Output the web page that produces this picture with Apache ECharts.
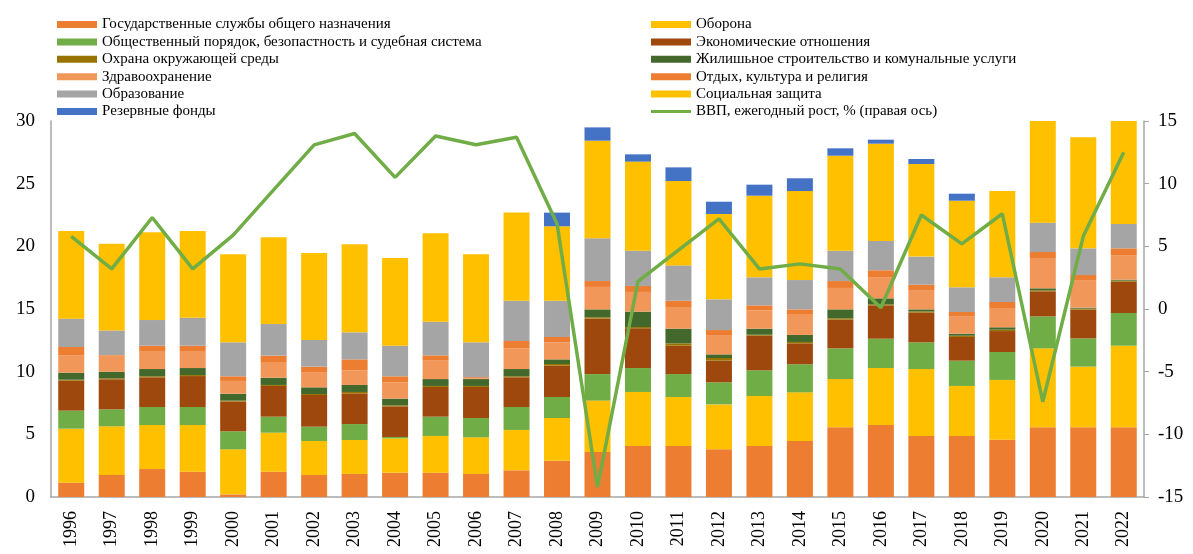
<!doctype html>
<html>
    <head>
        <meta charset="utf-8">
        <style>
            html, body { margin: 0; padding: 0; background: #fff; }
            #main { width: 1193px; height: 554px; }
        </style>
    </head>
    <body>
        <div id="main"></div>
        <script src="https://cdn.jsdelivr.net/npm/echarts@6/dist/echarts.min.js"></script>
        <script>
            var years = ['1996', '1997', '1998', '1999', '2000', '2001', '2002', '2003', '2004', '2005', '2006', '2007', '2008',
                '2009', '2010', '2011', '2012', '2013', '2014', '2015', '2016', '2017', '2018', '2019', '2020', '2021', '2022'];

            // % of GDP
            var gosSluzhby = [1.14, 1.76, 2.23, 2.02, 0.21, 2.02, 1.76, 1.84, 1.94, 1.94, 1.84, 2.13, 2.90,
                3.59, 4.07, 4.07, 3.80, 4.07, 4.47, 5.56, 5.74, 4.87, 4.87, 4.57, 5.56, 5.56, 5.56];
            var oborona = [4.31, 3.88, 3.51, 3.72, 3.59, 3.11, 2.71, 2.71, 2.74, 2.93, 2.92, 3.22, 3.40,
                4.10, 4.31, 3.91, 3.59, 3.99, 3.88, 3.85, 4.55, 5.34, 3.99, 4.77, 6.30, 4.84, 6.51];
            var poryadok = [1.44, 1.35, 1.44, 1.44, 1.44, 1.28, 1.14, 1.27, 0.11, 1.54, 1.54, 1.83, 1.68,
                2.12, 1.91, 1.83, 1.76, 2.05, 2.24, 2.45, 2.34, 2.13, 2.02, 2.23, 2.55, 2.26, 2.61];
            var ekonomika = [2.39, 2.40, 2.37, 2.47, 2.37, 2.45, 2.53, 2.45, 2.44, 2.37, 2.48, 2.37, 2.50,
                4.42, 3.17, 2.26, 1.73, 2.76, 1.67, 2.29, 2.66, 2.37, 1.89, 1.67, 2.00, 2.29, 2.50];
            var okhrana = [0.08, 0.08, 0.08, 0.08, 0.08, 0.08, 0.08, 0.11, 0.08, 0.08, 0.08, 0.08, 0.13,
                0.11, 0.10, 0.19, 0.21, 0.08, 0.11, 0.11, 0.08, 0.10, 0.10, 0.11, 0.08, 0.08, 0.08];
            var zhilye = [0.56, 0.53, 0.58, 0.56, 0.55, 0.58, 0.53, 0.56, 0.54, 0.55, 0.55, 0.58, 0.37,
                0.63, 1.23, 1.17, 0.29, 0.48, 0.56, 0.71, 0.48, 0.16, 0.16, 0.19, 0.16, 0.08, 0.08];
            var zdravookhr = [1.36, 1.28, 1.44, 1.36, 1.02, 1.25, 1.17, 1.17, 1.30, 1.47, 0.05, 1.65, 1.36,
                1.79, 1.57, 1.73, 1.49, 1.46, 1.67, 1.71, 1.65, 1.49, 1.36, 1.54, 2.42, 2.20, 1.92];
            var otdykh = [0.69, 0.05, 0.42, 0.42, 0.37, 0.51, 0.48, 0.87, 0.48, 0.42, 0.10, 0.59, 0.43,
                0.47, 0.48, 0.50, 0.45, 0.40, 0.37, 0.55, 0.59, 0.48, 0.37, 0.48, 0.48, 0.40, 0.58];
            var obrazovanie = [2.26, 1.96, 2.05, 2.24, 2.71, 2.52, 2.13, 2.16, 2.44, 2.69, 2.78, 3.21, 2.89,
                3.41, 2.81, 2.82, 2.45, 2.24, 2.34, 2.42, 2.34, 2.24, 1.97, 1.97, 2.34, 2.13, 1.94];
            var socZashchita = [6.99, 6.92, 7.00, 6.91, 7.02, 6.92, 6.94, 7.02, 7.00, 7.05, 7.02, 7.03, 5.94,
                7.79, 7.11, 6.73, 6.81, 6.51, 7.10, 7.58, 7.76, 7.39, 6.91, 6.88, 9.00, 8.86, 9.00];
            var rezerv = [0, 0, 0, 0, 0, 0, 0, 0, 0, 0, 0, 0, 1.09,
                1.06, 0.58, 1.09, 0.98, 0.88, 1.02, 0.59, 0.32, 0.40, 0.56, 0, 0, 0, 0];
            var vvpRost = [5.8, 3.2, 7.3, 3.2, 5.9, 9.5, 13.1, 14.0, 10.5, 13.8, 13.1, 13.7, 6.8,
                -14.2, 2.2, 4.7, 7.2, 3.2, 3.6, 3.2, 0.1, 7.5, 5.2, 7.6, -7.4, 5.8, 12.5];

            var barSeries = [
                ['Государственные службы общего назначения', gosSluzhby, '#ED7D31'],
                ['Оборона', oborona, '#FFC000'],
                ['Общественный порядок, безопастность и судебная система', poryadok, '#70AD47'],
                ['Экономические отношения', ekonomika, '#9E480E'],
                ['Охрана окружающей среды', okhrana, '#997300'],
                ['Жилишьное строительство и комунальные услуги', zhilye, '#43682B'],
                ['Здравоохранение', zdravookhr, '#F1975A'],
                ['Отдых, культура и религия', otdykh, '#ED7D31'],
                ['Образование', obrazovanie, '#A5A5A5'],
                ['Социальная защита', socZashchita, '#FFC000'],
                ['Резервные фонды', rezerv, '#4472C4']
            ];
            var gdpName = 'ВВП, ежегодный рост, % (правая ось)';

            var font = "'Liberation Serif', 'Times New Roman', serif";

            var series = barSeries.map(function (s) {
                return {
                    name: s[0],
                    type: 'bar',
                    stack: 'total',
                    barWidth: 26,
                    data: s[1],
                    itemStyle: { color: s[2] }
                };
            });
            series.push({
                name: gdpName,
                type: 'line',
                yAxisIndex: 1,
                data: vvpRost,
                symbol: 'none',
                z: 5,
                lineStyle: { color: '#70AD47', width: 3.5 },
                itemStyle: { color: '#70AD47' }
            });

            function legendItems(idx) {
                return idx.map(function (i) {
                    if (i < barSeries.length) return { name: barSeries[i][0], icon: 'rect' };
                    // plain line, no marker
                    return { name: gdpName, icon: 'path://M0,0L40,0L40,3L0,3Z' };
                });
            }

            var legendText = { fontFamily: font, fontSize: 15, color: '#000', lineHeight: 15 };

            var chart = echarts.init(document.getElementById('main'));
            chart.setOption({
                animation: false,
                textStyle: { fontFamily: font },
                legend: [{
                    left: 52, top: 12, orient: 'vertical',
                    itemWidth: 40, itemHeight: 7, itemGap: 2.4,
                    textStyle: legendText,
                    data: legendItems([0, 2, 4, 6, 8, 10])
                }, {
                    left: 646, top: 12, orient: 'vertical',
                    itemWidth: 40, itemHeight: 7, itemGap: 2.4,
                    textStyle: legendText,
                    data: legendItems([1, 3, 5, 7, 9, 11])
                }],
                grid: { left: 51, right: 49, top: 121, bottom: 57 },
                xAxis: {
                    type: 'category',
                    data: years,
                    axisLine: { lineStyle: { color: '#A6A6A6', width: 1.5 } },
                    axisTick: { show: false },
                    axisLabel: { rotate: 90, fontSize: 18, color: '#000', margin: 14, fontFamily: font }
                },
                yAxis: [{
                    type: 'value',
                    min: 0, max: 30, interval: 5,
                    splitLine: { show: false },
                    axisLine: { show: true, lineStyle: { color: '#A6A6A6', width: 1.5 } },
                    axisTick: { show: false },
                    axisLabel: { fontSize: 19, color: '#000', margin: 16, fontFamily: font }
                }, {
                    type: 'value',
                    min: -15, max: 15, interval: 5,
                    splitLine: { show: false },
                    axisLine: { show: true, lineStyle: { color: '#A6A6A6', width: 1.5 } },
                    axisTick: { show: true, length: 5, lineStyle: { color: '#A6A6A6' } },
                    axisLabel: { fontSize: 19, color: '#000', margin: 14, fontFamily: font }
                }],
                series: series
            });

            window.onresize = chart.resize;
        </script>
    </body>
</html>
